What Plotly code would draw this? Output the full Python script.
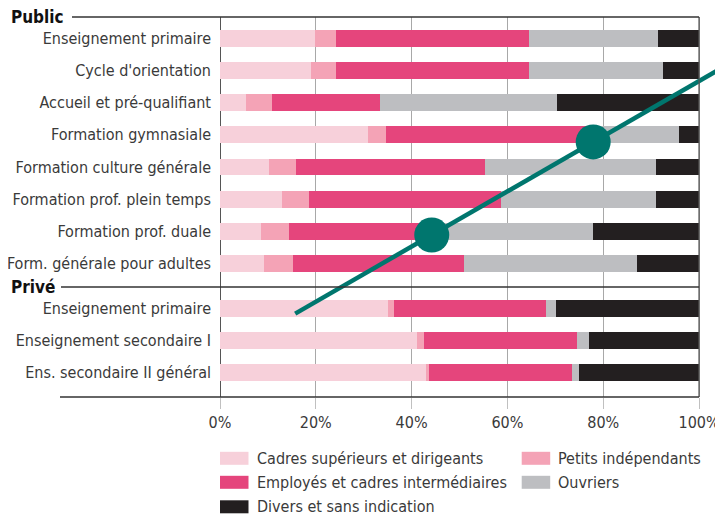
import plotly.graph_objects as go

# ---------------- data ----------------
public_categories = [
    "Enseignement primaire", "Cycle d'orientation", "Accueil et pré-qualifiant",
    "Formation gymnasiale", "Formation culture générale", "Formation prof. plein temps",
    "Formation prof. duale", "Form. générale pour adultes",
]
private_categories = [
    "Enseignement primaire", "Enseignement secondaire I", "Ens. secondaire II général",
]
group_labels = ["Public", "Privé"]

series_names = [
    "Cadres supérieurs et dirigeants", "Petits indépendants",
    "Employés et cadres intermédiaires", "Ouvriers", "Divers et sans indication",
]
# shares in % (public rows then private rows)
cadres    = [19.8, 18.9, 5.4, 30.8, 10.2, 13.0, 8.5, 9.2, 35.1, 41.2, 42.9]
petits    = [4.4, 5.3, 5.4, 3.8, 5.6, 5.6, 5.9, 6.1, 1.2, 1.3, 0.8]
employes  = [40.3, 40.3, 22.7, 43.4, 39.5, 40.0, 29.8, 35.7, 31.8, 32.1, 29.8]
ouvriers  = [27.0, 27.9, 36.9, 17.8, 35.7, 32.4, 33.6, 36.1, 2.0, 2.4, 1.4]
divers    = [8.5, 7.6, 29.6, 4.2, 9.0, 9.0, 22.2, 12.9, 29.9, 23.0, 25.1]

x_ticks = [0, 20, 40, 60, 80, 100]
x_ticklabels = ["0%", "20%", "40%", "60%", "80%", "100%"]

# teal overlay line (x in %, y in row units)
overlay_line_x = [15.7, 105]
overlay_line_y = [8.55, 0.9]
overlay_dot_x = [44.2, 77.9]
overlay_dot_y = [6.11, 3.22]

# ---------------- styling ----------------
colors = ["#f7d0da", "#f4a3b6", "#e5457c", "#bdbec1", "#231f20"]
TEAL = "#00766e"
FONT = "DejaVu Sans Condensed, Liberation Sans, sans-serif"
FS = 16
TXT = "#3a3a3a"
GAP = 0.385
Y_TOP, Y_BOT = -0.66, 11.14
X_MAX = 105

OFF = 8  # page body margin
W, H = 723 - OFF, 515 - OFF
ML, MT, MB = 220 - OFF, 17 - OFF, 118
plot_w = W - ML
plot_h = H - MT - MB

n_pub = len(public_categories)
y_pos = list(range(n_pub)) + [n_pub + GAP + j for j in range(len(private_categories))]
all_labels = public_categories + private_categories


def ypaper(v):
    return (Y_BOT - v) / (Y_BOT - Y_TOP)


def xpaper_px(px):  # px in page coordinates
    return (px - OFF - ML) / plot_w


def ypaper_px(py):  # py in page coordinates
    return (H - MB - (py - OFF)) / plot_h


fig = go.Figure()
for name, vals, col in zip(series_names, [cadres, petits, employes, ouvriers, divers], colors):
    fig.add_trace(go.Bar(
        x=vals, y=y_pos, orientation="h", name=name,
        marker=dict(color=col, line=dict(width=0)), width=0.52,
        showlegend=False, hoverinfo="x+name",
    ))

fig.add_trace(go.Scatter(
    x=overlay_line_x, y=overlay_line_y, mode="lines",
    line=dict(color=TEAL, width=4.5), showlegend=False, hoverinfo="skip",
))
fig.add_trace(go.Scatter(
    x=overlay_dot_x, y=overlay_dot_y, mode="markers",
    marker=dict(color=TEAL, size=35, line=dict(width=0)),
    showlegend=False, hoverinfo="skip", cliponaxis=False,
))

shapes = []
# right border at 100%
shapes.append(dict(type="line", xref="x", yref="paper", x0=100, x1=100, y0=0, y1=1,
                   line=dict(color="#555555", width=1.3), layer="above"))
x_end = 100 / X_MAX
sep_y = ypaper(n_pub - 1 + (1 + GAP) / 2 + 0.03)
shapes.append(dict(type="line", xref="paper", yref="paper", x0=xpaper_px(72), x1=x_end,
                   y0=ypaper(Y_TOP), y1=ypaper(Y_TOP), line=dict(color="#333333", width=1.5)))
shapes.append(dict(type="line", xref="paper", yref="paper", x0=xpaper_px(61), x1=x_end,
                   y0=sep_y, y1=sep_y, line=dict(color="#333333", width=1.5)))
shapes.append(dict(type="line", xref="paper", yref="paper", x0=xpaper_px(60), x1=x_end,
                   y0=ypaper(Y_BOT), y1=ypaper(Y_BOT), line=dict(color="#333333", width=1.5)))

annotations = [
    dict(text="<b>" + group_labels[0] + "</b>", xref="paper", yref="paper",
         x=xpaper_px(9), y=ypaper(Y_TOP), xanchor="left", yanchor="middle",
         showarrow=False, font=dict(family=FONT, size=FS + 1, color="#111111")),
    dict(text="<b>" + group_labels[1] + "</b>", xref="paper", yref="paper",
         x=xpaper_px(9), y=sep_y, xanchor="left", yanchor="middle",
         showarrow=False, font=dict(family=FONT, size=FS + 1, color="#111111")),
]

# custom legend: 2 columns, row-major (page pixel positions)
leg_cols_px = [220, 521.7]
leg_rows_px = [458.3, 482.3, 506.8]
sw_w, sw_h = 28.5, 13
for k, (name, col) in enumerate(zip(series_names, colors)):
    r, c = divmod(k, 2)
    x0 = leg_cols_px[c]
    yc = leg_rows_px[r]
    shapes.append(dict(type="rect", xref="paper", yref="paper",
                       x0=xpaper_px(x0), x1=xpaper_px(x0 + sw_w),
                       y0=ypaper_px(yc - sw_h / 2), y1=ypaper_px(yc + sw_h / 2),
                       fillcolor=col, line=dict(width=0)))
    annotations.append(dict(text=name, xref="paper", yref="paper",
                            x=xpaper_px(x0 + sw_w + 6), y=ypaper_px(yc),
                            xanchor="left", yanchor="middle", showarrow=False,
                            font=dict(family=FONT, size=FS, color=TXT)))

fig.update_layout(
    width=W, height=H,
    margin=dict(l=ML, r=0, t=MT, b=MB, pad=0, autoexpand=False),
    paper_bgcolor="white", plot_bgcolor="white",
    barmode="stack", bargap=0,
    font=dict(family=FONT, size=FS, color=TXT),
    shapes=shapes, annotations=annotations,
    showlegend=False,
    xaxis=dict(
        range=[0, X_MAX], tickvals=x_ticks, ticktext=x_ticklabels,
        showgrid=True, gridcolor="#a8a8a8", gridwidth=1,
        zeroline=True, zerolinecolor="#555555", zerolinewidth=1.3,
        ticks="outside", ticklen=11, tickcolor="#c0c0c0", tickwidth=1,
        showline=False, fixedrange=True, automargin=False,
        tickfont=dict(family=FONT, size=FS, color=TXT),
    ),
    yaxis=dict(
        range=[Y_BOT, Y_TOP], tickvals=y_pos, ticktext=all_labels,
        showgrid=False, zeroline=False, showline=False, ticks="",
        ticklabelstandoff=8, fixedrange=True, automargin=False,
        tickfont=dict(family=FONT, size=FS, color=TXT),
    ),
)

fig.write_html("out.html")
